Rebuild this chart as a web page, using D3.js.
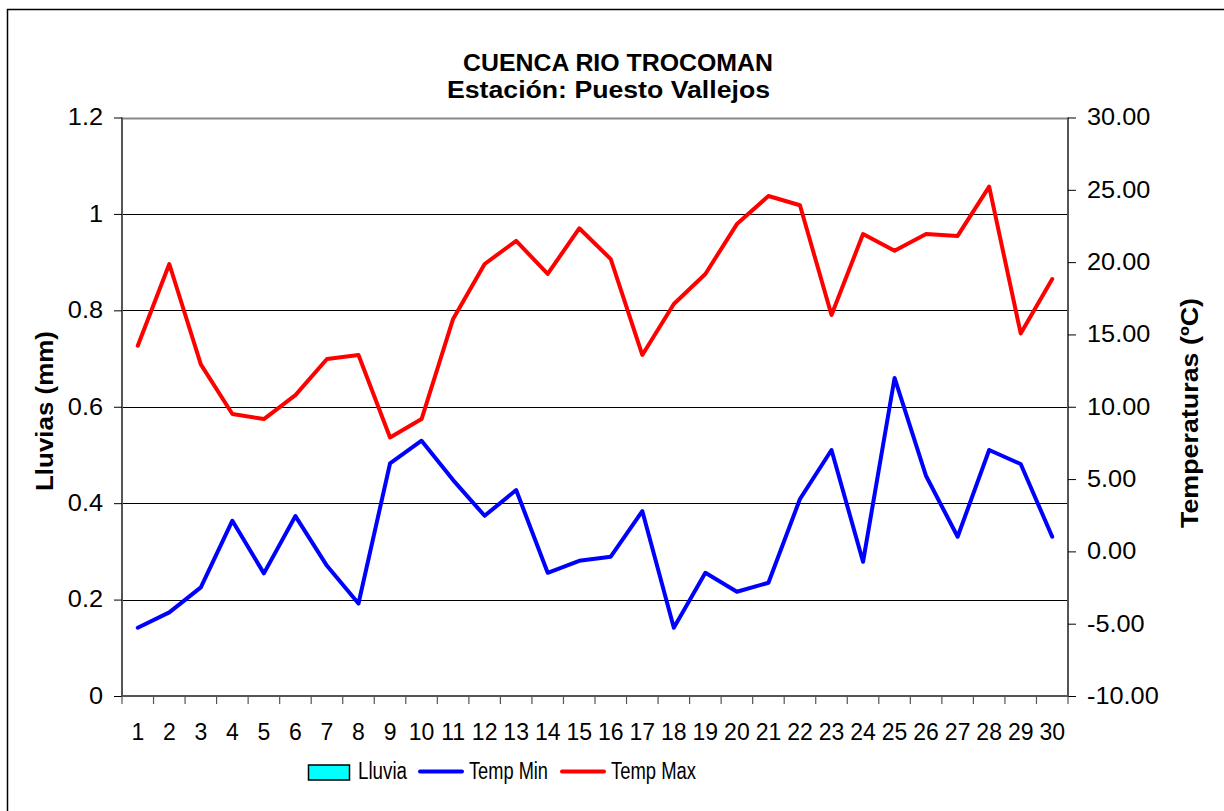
<!DOCTYPE html>
<html>
<head>
<meta charset="utf-8">
<script src="https://cdn.jsdelivr.net/npm/d3@7"></script>
<style>
  body { margin: 0; background: #fff; }
  text { font-family: "Liberation Sans", Arial, sans-serif; fill: #000; }
</style>
</head>
<body>
<div id="chart"></div>
<script>
// datos
var dias = d3.range(1, 31);
var lluvia = [0,0,0,0,0,0,0,0,0,0,0,0,0,0,0,0,0,0,0,0,0,0,0,0,0,0,0,0,0,0];
var tempMin = [-5.28,-4.22,-2.49,2.12,-1.52,2.44,-1.0,-3.6,6.08,7.65,
               4.93,2.46,4.24,-1.48,-0.65,-0.37,2.79,-5.28,-1.48,-2.79,
               -2.17,3.62,7.01,-0.72,11.99,5.21,1.01,7.01,6.04,1.01];
var tempMax = [14.22,19.87,12.93,9.5,9.15,10.8,13.3,13.58,7.88,9.15,
               16.07,19.87,21.47,19.18,22.34,20.21,13.58,17.1,19.18,22.63,
               24.57,23.93,16.34,21.94,20.79,21.94,21.81,25.22,15.07,18.83];
var ticksLluvia = [0, 0.2, 0.4, 0.6, 0.8, 1, 1.2];
var ticksTemp = [-10, -5, 0, 5, 10, 15, 20, 25, 30];

var W = 1224, H = 811;
var pLeft = 122, pRight = 1068, pTop = 117.5, pBottom = 696;

var svg = d3.select("#chart").append("svg")
	.attr("width", W)
	.attr("height", H);

// marco exterior
svg.append("rect")
	.attr("x", 7.5).attr("y", 9.5)
	.attr("width", W + 20).attr("height", H + 20)
	.style("fill", "none").style("stroke", "#000").style("stroke-width", 1.5);

var x = d3.scaleBand().domain(dias).range([pLeft, pRight]);
var yL = d3.scaleLinear().domain([0, 1.2]).range([pBottom, pTop]);
var yR = d3.scaleLinear().domain([-10, 30]).range([pBottom, pTop]);

// estira un texto a un ancho relativo
function estirar(sel, f){
	sel.each(function(){
		var w = this.getComputedTextLength();
		d3.select(this).attr("textLength", w * f).attr("lengthAdjust", "spacingAndGlyphs");
	});
}

// lineas de division
svg.append("g").selectAll("line")
	.data(ticksLluvia.slice(1))
	.enter()
	.append("line")
	.attr("x1", pLeft).attr("x2", pRight)
	.attr("y1", function(d){ return Math.round(yL(d)) + 0.5; })
	.attr("y2", function(d){ return Math.round(yL(d)) + 0.5; })
	.style("stroke", function(d){ return d == 1.2 ? "#888" : "#000"; })
	.style("stroke-width", function(d){ return d == 1.2 ? 2 : 1; });

// barras de lluvia (todas en cero)
svg.append("g").selectAll("rect")
	.data(lluvia)
	.enter()
	.append("rect")
	.attr("x", function(d, i){ return x(dias[i]) + x.bandwidth() * 0.25; })
	.attr("width", x.bandwidth() * 0.5)
	.attr("y", function(d){ return yL(d); })
	.attr("height", function(d){ return yL(0) - yL(d); })
	.style("fill", "#00ffff");

// ejes
var fmtTemp = d3.format(".2f");
var axisL = svg.append("g")
	.attr("transform", "translate(" + pLeft + ",0)")
	.call(d3.axisLeft(yL).tickValues(ticksLluvia).tickSize(8).tickPadding(11)
		.tickFormat(function(d){ return String(+d.toFixed(1)); }));
var axisR = svg.append("g")
	.attr("transform", "translate(" + pRight + ",0)")
	.call(d3.axisRight(yR).tickValues(ticksTemp).tickSize(8).tickPadding(11)
		.tickFormat(function(d){ return fmtTemp(d).replace("\u2212", "-"); }));
var axisB = svg.append("g")
	.attr("transform", "translate(0," + pBottom + ")")
	.call(d3.axisBottom(x).tickSize(0).tickPadding(28));

[axisL, axisR, axisB].forEach(function(a){
	a.select(".domain").style("stroke", "#555").style("stroke-width", 2);
	a.selectAll(".tick line").style("stroke", "#000");
	a.selectAll("text").style("font-size", "23px").style("font-family", "Liberation Sans, Arial, sans-serif");
});
estirar(axisL.selectAll("text"), 1.1);
estirar(axisR.selectAll("text"), 1.1);
axisL.select(".domain").attr("d", "M0," + pTop + "V" + pBottom);
axisR.select(".domain").attr("d", "M0," + pTop + "V" + pBottom);
axisB.select(".domain").attr("d", "M" + pLeft + ",0H" + pRight);

// marcas del eje x entre categorias
svg.append("g").selectAll("line")
	.data(d3.range(0, 31))
	.enter()
	.append("line")
	.attr("x1", function(d){ return pLeft + d * x.step(); })
	.attr("x2", function(d){ return pLeft + d * x.step(); })
	.attr("y1", pBottom).attr("y2", pBottom + 8)
	.style("stroke", "#555").style("stroke-width", 1.2);

// lineas de temperatura
var linea = function(vals){
	return d3.line()
		.x(function(d, i){ return x(dias[i]) + x.bandwidth() / 2; })
		.y(function(d){ return yR(d); })(vals);
};
svg.append("path").attr("d", linea(tempMin))
	.style("fill", "none").style("stroke", "#0000ff").style("stroke-width", 4)
	.style("stroke-linejoin", "round").style("stroke-linecap", "round");
svg.append("path").attr("d", linea(tempMax))
	.style("fill", "none").style("stroke", "#ff0000").style("stroke-width", 4)
	.style("stroke-linejoin", "round").style("stroke-linecap", "round");

// titulos
svg.append("text").attr("x", 463).attr("y", 71)
	.attr("textLength", 310).attr("lengthAdjust", "spacingAndGlyphs")
	.style("font-size", "23px").style("font-weight", "bold")
	.text("CUENCA RIO TROCOMAN");
svg.append("text").attr("x", 447).attr("y", 98)
	.attr("textLength", 323).attr("lengthAdjust", "spacingAndGlyphs")
	.style("font-size", "23px").style("font-weight", "bold")
	.text("Estación: Puesto Vallejos");

svg.append("text")
	.attr("transform", "translate(53,411) rotate(-90)")
	.attr("text-anchor", "middle")
	.attr("textLength", 160).attr("lengthAdjust", "spacingAndGlyphs")
	.style("font-size", "24px").style("font-weight", "bold")
	.text("Lluvias (mm)");
svg.append("text")
	.attr("transform", "translate(1198,413) rotate(-90)")
	.attr("text-anchor", "middle")
	.attr("textLength", 230).attr("lengthAdjust", "spacingAndGlyphs")
	.style("font-size", "24px").style("font-weight", "bold")
	.text("Temperaturas (ºC)");

// leyenda
var ley = svg.append("g");
ley.append("rect").attr("x", 308.5).attr("y", 765).attr("width", 41).attr("height", 15)
	.style("fill", "#00ffff").style("stroke", "#000").style("stroke-width", 1.5);
ley.append("text").attr("x", 358).attr("y", 779).style("font-size", "23px")
	.attr("textLength", 49).attr("lengthAdjust", "spacingAndGlyphs").text("Lluvia");
ley.append("line").attr("x1", 420).attr("x2", 462).attr("y1", 771.5).attr("y2", 771.5)
	.style("stroke", "#0000ff").style("stroke-width", 4).style("stroke-linecap", "round");
ley.append("text").attr("x", 469).attr("y", 779).style("font-size", "23px")
	.attr("textLength", 79).attr("lengthAdjust", "spacingAndGlyphs").text("Temp Min");
ley.append("line").attr("x1", 562).attr("x2", 604).attr("y1", 771.5).attr("y2", 771.5)
	.style("stroke", "#ff0000").style("stroke-width", 4).style("stroke-linecap", "round");
ley.append("text").attr("x", 611).attr("y", 779).style("font-size", "23px")
	.attr("textLength", 85).attr("lengthAdjust", "spacingAndGlyphs").text("Temp Max");
</script>
</body>
</html>
